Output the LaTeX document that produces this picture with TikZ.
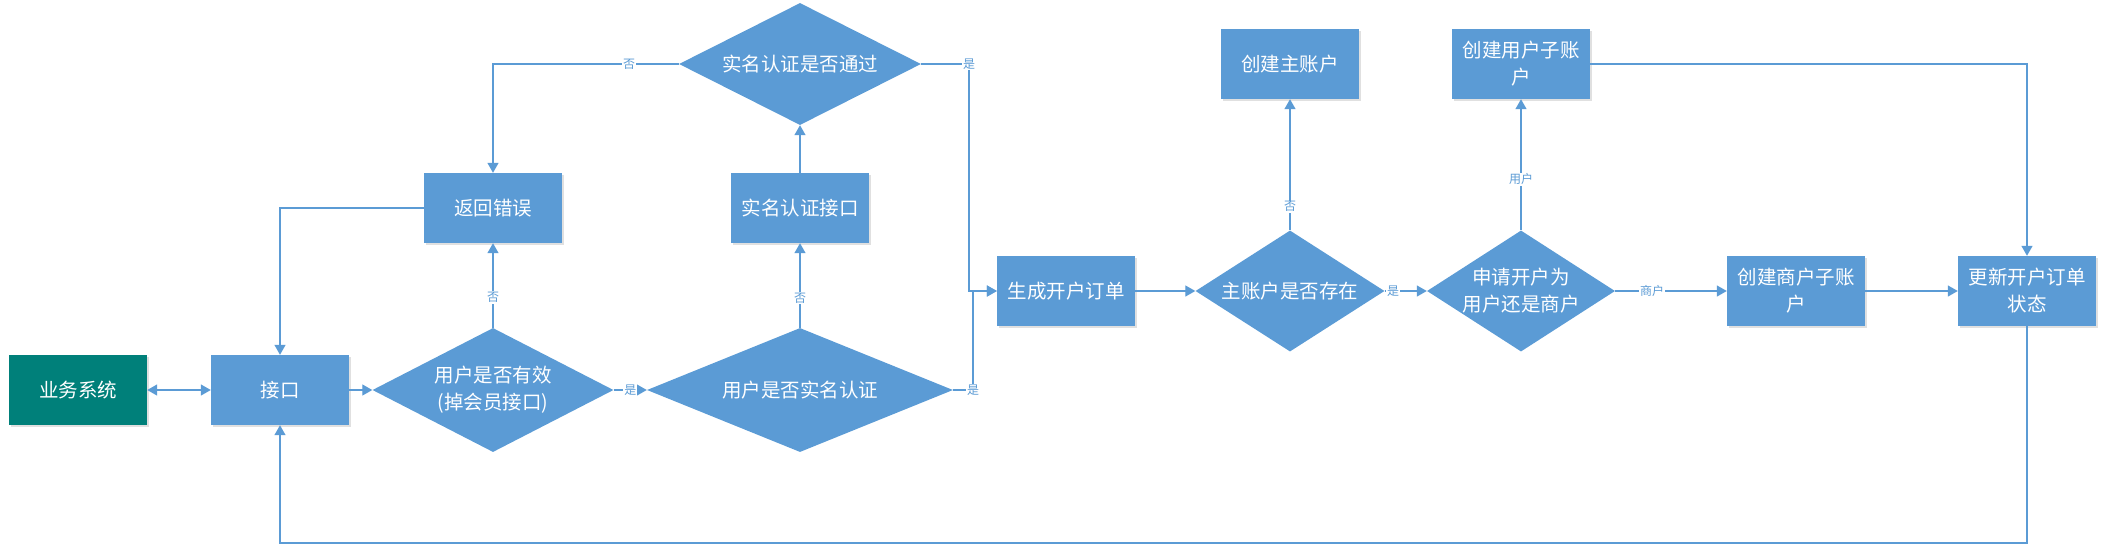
\documentclass[tikz,border=0pt]{standalone}
\usepackage{fontspec}
\newfontfamily\cjk{Noto Sans CJK SC}
\usetikzlibrary{shapes.geometric,arrows.meta,shadows}
\definecolor{boxblue}{HTML}{5B9BD5}
\definecolor{tealbox}{HTML}{00807A}
\definecolor{lineblue}{HTML}{5B9BD5}
\begin{document}
\begin{tikzpicture}[x=1pt,y=-1pt,
  >={Triangle[length=10pt,width=11pt]},
  box/.style={fill=boxblue, minimum width=138pt, minimum height=70pt, inner sep=0pt,
    text=white, align=center, font=\cjk\fontsize{19.5}{27}\selectfont,
    drop shadow={shadow xshift=1.5pt, shadow yshift=-2pt, opacity=0.2, fill=black!60}},
  dia/.style={shape=diamond, fill=boxblue, inner sep=0pt},
  dtext/.style={text=white, align=center, inner sep=0pt, font=\cjk\fontsize{19.5}{27}\selectfont},
  arr/.style={draw=lineblue, line width=1.3pt, ->},
  lbl/.style={fill=white, text=lineblue, inner sep=1pt, font=\cjk\fontsize{12}{14}\selectfont}
]
\useasboundingbox (0,0) rectangle (2107,547);

% row 1
\node[box, fill=tealbox] (ys) at (78,390) {业务系统};
\node[box] (jk) at (280,390) {接口};
\node[dia, minimum width=241pt, minimum height=124pt] (d1) at (493,390) {};
\node[dtext] (d1t) at (d1.center) {用户是否有效\\(掉会员接口)};
\node[dia, minimum width=306pt, minimum height=124pt] (d2) at (800,390) {};
\node[dtext] (d2t) at (d2.center) {用户是否实名认证};

% middle row
\node[box] (fh) at (493,208) {返回错误};
\node[box] (smjk) at (800,208) {实名认证接口};

% top
\node[dia, minimum width=242pt, minimum height=122pt] (d3) at (800,64) {};
\node[dtext] (d3t) at (d3.center) {实名认证是否通过};
\node[box] (czh) at (1290,64) {创建主账户};
\node[box] (cyh) at (1521,64) {创建用户子账\\户};

% row 2
\node[box] (sc) at (1066,291) {生成开户订单};
\node[dia, minimum width=189pt, minimum height=121pt] (d4) at (1290,291) {};
\node[dtext] (d4t) at (d4.center) {主账户是否存在};
\node[dia, minimum width=188pt, minimum height=121pt] (d5) at (1521,291) {};
\node[dtext] (d5t) at (d5.center) {申请开户为\\用户还是商户};
\node[box] (csh) at (1796,291) {创建商户子账\\户};
\node[box] (gx) at (2027,291) {更新开户订单\\状态};

\coordinate (c1) at (969,291);
\coordinate (c2) at (973,291);
\coordinate (bl) at (280,543);

% connectors
\draw[arr, <->] (ys.east) -- (jk.west);
\draw[arr] (jk.east) -- (d1.west);
\draw[arr] (d1.north) -- node[lbl, pos=0.36]{否} (fh.south);
\draw[arr] (fh.west) -| (jk.north);
\draw[arr] (d1.east) -- node[lbl]{是} (d2.west);
\draw[arr] (d2.north) -- node[lbl, pos=0.35]{否} (smjk.south);
\draw[arr] (smjk.north) -- (d3.south);
\draw[arr] (d3.west) -| node[lbl, pos=0.134]{否} (fh.north);
\draw[arr] (d3.east) -| node[lbl, pos=0.5]{是} (c1) -- (sc.west);
\draw[arr] (d2.east) -| node[lbl, pos=0.5]{是} (c2) -- (sc.west);
\draw[arr] (sc.east) -- (d4.west);
\draw[arr] (d4.north) -- node[lbl, pos=0.18]{否} (czh.south);
\draw[arr] (d4.east) -- node[lbl, pos=0.2]{是} (d5.west);
\draw[arr] (d5.north) -- node[lbl, pos=0.39]{用户} (cyh.south);
\draw[arr] (d5.east) -- node[lbl, pos=0.33]{商户} (csh.west);
\draw[arr] (csh.east) -- (gx.west);
\draw[arr] (cyh.east) -| (gx.north);
\draw[arr] (gx.south) |- (bl) -- (jk.south);
\end{tikzpicture}
\end{document}
